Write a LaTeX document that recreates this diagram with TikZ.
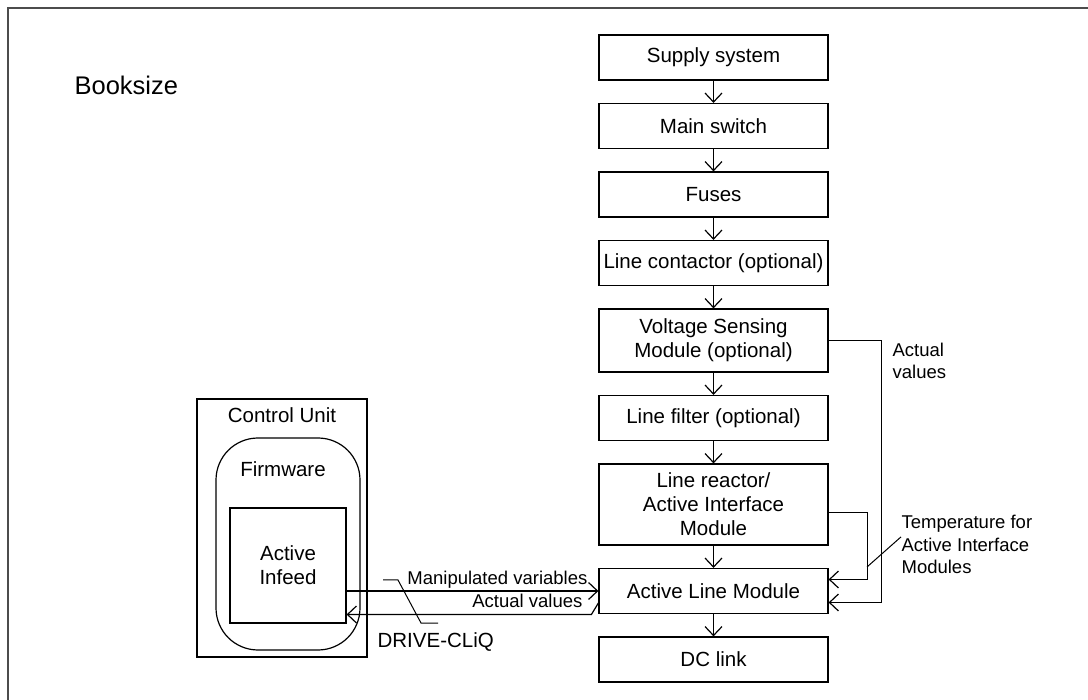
\documentclass[tikz,border=0pt]{standalone}
\usepackage{fontspec}
\setmainfont{Liberation Sans}
\usetikzlibrary{positioning,arrows.meta}

\begin{document}
\begin{tikzpicture}[x=1pt, y=-1pt, node distance=22.3pt, line width=1.2pt,
    >={Straight Barb[length=9pt,width=17pt]},
    main/.style = {draw, minimum width=229pt, minimum height=45pt, inner sep=0pt, align=center, font=\fontsize{20.5}{24}\selectfont},
    note/.style = {inner sep=0pt, align=left, font=\fontsize{18.5}{22.5}\selectfont},
    big/.style = {inner sep=0pt, font=\fontsize{20.5}{24}\selectfont}]
    \useasboundingbox (0,0) rectangle (1088,700);
    \draw[gray!60!black, line width=2pt] (8,700) -- (8,8) -- (1088,8);

    \node[inner sep=0pt, anchor=base west, font=\fontsize{25.5}{30}\selectfont] (0) at (74,95) {Booksize};

    % supply chain
    \node[main] (1) at (713.5,57.5) {Supply system};
    \node[main] (2) [below=of 1] {Main switch};
    \node[main] (3) [below=of 2] {Fuses};
    \node[main] (4) [below=of 3] {Line contactor (optional)};
    \node[main, minimum height=63pt] (5) [below=of 4] {Voltage Sensing\\Module (optional)};
    \node[main] (6) [below=of 5] {Line filter (optional)};
    \node[main, minimum height=81pt] (7) [below=of 6] {Line reactor/\\Active Interface\\Module};
    \node[main] (8) [below=of 7] {Active Line Module};
    \node[main] (9) [below=of 8] {DC link};

    \foreach \a/\b in {1/2, 2/3, 3/4, 4/5, 5/6, 6/7, 7/8, 8/9}
        \draw[->] (\a) to (\b);

    % control unit
    \node[draw, minimum width=170pt, minimum height=258pt] (10) at (282,528) {};
    \node[big, anchor=base] (10t) at (282,423) {Control Unit};
    \node[draw, rounded corners=42pt, minimum width=144pt, minimum height=212pt] (11) at (288,544) {};
    \node[big, anchor=base] (11t) at (283,477) {Firmware};
    \node[draw, big, align=center, minimum width=116pt, minimum height=115pt] (12) at (288,565.5) {Active\\Infeed};

    % feedback
    \node[note, anchor=north west] (13) at (892,342) {Actual\\values};
    \node[note, anchor=north west] (14) at (901,515) {Temperature for\\Active Interface\\Modules};
    \draw[->] (5.east) -- ++(53,0) |- ([yshift=-11.5pt]8.east);
    \draw[->] ([yshift=-8pt]7.east) -- ++(39,0) |- ([yshift=11.5pt]8.east);
    \coordinate (15) at (867,567);
    \draw[line width=1pt] (15) -- ([yshift=8pt]14.west);

    % DRIVE-CLiQ
    \node[note, anchor=base east] (16) at (588,585) {Manipulated variables};
    \node[note, anchor=base east] (17) at (583,608) {Actual values};
    \draw[->] (12.east |- 8.west) -- (8.west);
    \draw[->] ([yshift=-12pt]8.west) -- ++(-7,11.5) coordinate (20) -- (20 -| 12.east);
    \node[big, anchor=base west] (18) at (377,647) {DRIVE-CLiQ};
    \coordinate (19) at (383,580);
    \draw[line width=1pt] (19) -- ++(15,0) -- ++(23,43) -- ++(17,0);
\end{tikzpicture}
\end{document}
